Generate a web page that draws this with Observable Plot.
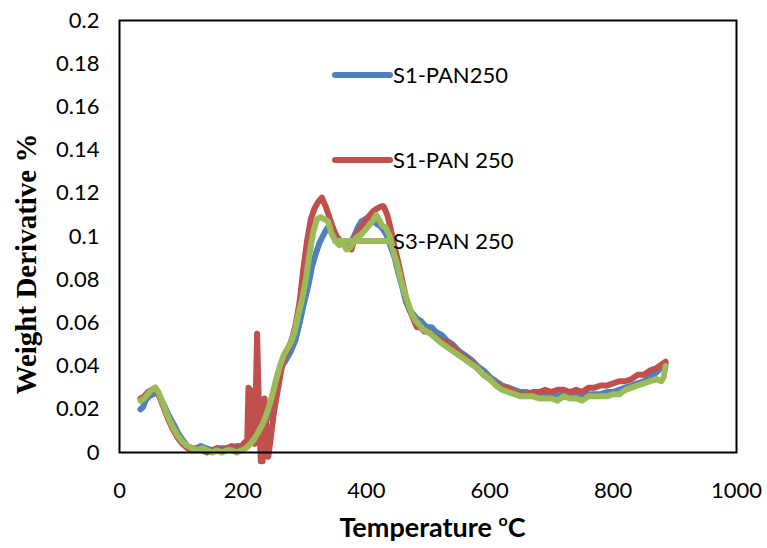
<!DOCTYPE html>
<html><head><meta charset="utf-8">
<script src="https://cdn.jsdelivr.net/npm/d3@7"></script>
<script src="https://cdn.jsdelivr.net/npm/@observablehq/plot@0.6"></script>
<style>body{margin:0;background:#fff} #chart{width:767px;height:548px}</style>
</head><body><div id="chart"></div>
<script>
const seriesNames = ["S1-PAN250", "S1-PAN 250", "S3-PAN 250"];
const seriesColors = ["#4F81BD", "#C0504D", "#9BBB59"];
const xTicks = [0, 200, 400, 600, 800, 1000];
const yTicks = [0, 0.02, 0.04, 0.06, 0.08, 0.1, 0.12, 0.14, 0.16, 0.18, 0.2];
const xTitle = "Temperature ";
const xTitleSup = "o";
const xTitleEnd = "C";
const yTitle = "Weight Derivative %";

// S1-PAN250 (blue)
const blueT = [34,38,42,48,55,60,65,72,80,88,95,102,110,118,125,132,140,150,160,170,180,190,200,210,220,230,240,248,255,262,268,272,278,285,292,298,305,312,318,324,331,337,342,348,355,362,368,374,380,386,392,398,404,410,416,422,428,434,440,446,452,458,464,470,476,482,488,494,500,506,512,518,524,530,540,550,560,570,580,590,600,610,620,630,640,650,660,670,680,690,700,710,720,730,740,750,760,770,780,790,800,810,820,830,840,850,860,870,880,885];
const blueV = [0.020,0.021,0.024,0.026,0.027,0.028,0.026,0.022,0.017,0.013,0.009,0.006,0.003,0.002,0.002,0.003,0.002,0.001,0.002,0.002,0.002,0.003,0.003,0.004,0.006,0.010,0.016,0.024,0.034,0.040,0.042,0.044,0.047,0.052,0.060,0.068,0.076,0.086,0.092,0.097,0.101,0.104,0.103,0.100,0.098,0.097,0.096,0.097,0.100,0.104,0.107,0.108,0.109,0.108,0.106,0.105,0.103,0.100,0.095,0.090,0.083,0.077,0.070,0.066,0.064,0.062,0.061,0.059,0.058,0.058,0.056,0.055,0.054,0.052,0.050,0.047,0.045,0.043,0.040,0.038,0.035,0.033,0.031,0.030,0.029,0.028,0.028,0.027,0.027,0.027,0.027,0.026,0.027,0.027,0.026,0.027,0.027,0.027,0.027,0.028,0.028,0.029,0.030,0.031,0.032,0.033,0.035,0.037,0.040,0.041];

// S1-PAN 250 (red)
const redT = [34,40,46,52,58,63,70,78,86,94,102,110,118,126,134,142,150,158,166,174,182,190,198,204,207,209,212,215,219,223,226,229,232,235,238,241,244,250,256,262,268,274,280,286,292,298,304,310,316,322,328,334,340,346,352,358,364,370,376,382,388,394,400,406,412,418,424,428,434,440,446,452,458,464,470,476,482,488,494,500,510,520,530,540,550,560,570,580,590,600,610,620,630,640,650,660,670,680,690,700,710,720,730,740,750,760,770,780,790,800,810,820,830,840,850,860,870,880,885];
const redV = [0.025,0.026,0.028,0.029,0.030,0.027,0.022,0.016,0.011,0.007,0.004,0.002,0.001,0.002,0.001,0.000,0.001,0.002,0.001,0.002,0.003,0.002,0.003,0.005,0.005,0.030,0.029,0.010,0.004,0.055,0.020,-0.004,-0.004,0.025,0.012,-0.002,0.004,0.018,0.028,0.038,0.045,0.048,0.053,0.060,0.070,0.085,0.098,0.108,0.113,0.116,0.118,0.114,0.109,0.104,0.100,0.098,0.097,0.095,0.094,0.100,0.103,0.105,0.108,0.110,0.112,0.113,0.114,0.114,0.110,0.103,0.095,0.088,0.080,0.072,0.066,0.062,0.058,0.058,0.056,0.056,0.054,0.052,0.051,0.049,0.046,0.044,0.042,0.039,0.036,0.034,0.032,0.030,0.030,0.028,0.027,0.027,0.028,0.028,0.029,0.028,0.029,0.029,0.028,0.029,0.028,0.030,0.030,0.031,0.031,0.032,0.033,0.033,0.034,0.036,0.036,0.038,0.039,0.041,0.042];

// S3-PAN 250 (green)
const greenT = [34,40,46,52,58,63,70,78,86,94,102,110,118,126,134,142,150,158,166,174,182,190,198,205,212,218,224,230,236,242,248,254,260,266,272,278,284,290,296,302,308,314,320,326,332,338,344,350,356,362,368,374,380,386,392,398,404,410,416,420,426,432,438,444,450,456,462,468,474,480,486,492,498,504,512,520,530,540,550,560,570,580,590,600,610,620,630,640,650,660,670,680,690,700,710,720,730,740,750,760,770,780,790,800,810,820,830,840,850,860,870,878,882,885];
const greenV = [0.024,0.025,0.027,0.029,0.030,0.028,0.023,0.017,0.012,0.008,0.005,0.003,0.002,0.001,0.002,0.001,0.000,0.001,0.000,0.001,0.001,0.000,0.001,0.002,0.004,0.006,0.009,0.012,0.016,0.021,0.027,0.034,0.040,0.045,0.048,0.051,0.056,0.064,0.071,0.080,0.092,0.102,0.108,0.109,0.108,0.107,0.101,0.098,0.096,0.097,0.094,0.095,0.098,0.100,0.101,0.103,0.105,0.107,0.110,0.108,0.105,0.104,0.100,0.093,0.087,0.080,0.074,0.069,0.064,0.061,0.059,0.057,0.056,0.055,0.053,0.051,0.049,0.047,0.045,0.043,0.041,0.039,0.036,0.034,0.031,0.029,0.028,0.027,0.026,0.026,0.026,0.025,0.025,0.025,0.024,0.026,0.025,0.025,0.024,0.026,0.026,0.026,0.026,0.027,0.027,0.029,0.030,0.031,0.032,0.033,0.034,0.033,0.035,0.040];

const rows = [];
[[blueT, blueV], [redT, redV], [greenT, greenV]].forEach(([ts, vs], i) => {
  ts.forEach((t, j) => rows.push({t, v: vs[j], s: seriesNames[i]}));
});

const W = 767, H = 548, mL = 119, mR = 31, mT = 20, mB = 96;

const plot = Plot.plot({
  width: W, height: H,
  marginLeft: mL, marginRight: mR, marginTop: mT, marginBottom: mB,
  style: {fontFamily: "Lato", fontSize: "22px", color: "#000", background: "#fff", overflow: "visible"},
  x: {domain: [0, 1000], label: null},
  y: {domain: [0, 0.2], label: null},
  color: {domain: seriesNames, range: seriesColors},
  marks: [
    Plot.axisX({ticks: xTicks, tickSize: 0, tickPadding: 30, label: null, fontSize: 22,
      tickFormat: d => String(d)}),
    Plot.axisY({ticks: yTicks, tickSize: 0, tickPadding: 20, label: null, fontSize: 22,
      tickFormat: d => String(+d.toFixed(2))}),
    Plot.line(rows, {x: "t", y: "v", z: "s", stroke: "s", strokeWidth: 6,
      strokeLinejoin: "round", strokeLinecap: "round", clip: false}),
    Plot.frame({stroke: "#000", strokeWidth: 2})
  ]
});
document.getElementById("chart").appendChild(plot);

const svg = d3.select(plot);
// Legend inside plot area
const legX0 = 335, legX1 = 390, legRows = [75, 160, 241];
seriesNames.forEach((name, i) => {
  const g = svg.append("g");
  g.append("line").attr("x1", legX0).attr("x2", legX1).attr("y1", legRows[i]).attr("y2", legRows[i])
    .attr("stroke", seriesColors[i]).attr("stroke-width", 6).attr("stroke-linecap", "round");
  g.append("text").attr("x", legX1 + 3).attr("y", legRows[i]).attr("dy", "0.36em")
    .attr("text-anchor", "start")
    .attr("font-family", "Lato").attr("font-size", 22).attr("fill", "#000").text(name);
});
// X title
const xt = svg.append("text").attr("x", (mL + W - mR) / 2 + 5).attr("y", 537)
  .attr("text-anchor", "middle").attr("font-family", "Lato").attr("font-weight", "bold")
  .attr("font-size", 27).attr("fill", "#000");
xt.append("tspan").text(xTitle);
xt.append("tspan").attr("font-size", 16).attr("dy", -11).text(xTitleSup);
xt.append("tspan").attr("dy", 11).text(xTitleEnd);
// Y title
svg.append("text").attr("transform", "translate(36,264) rotate(-90)")
  .attr("text-anchor", "middle").attr("font-family", "Liberation Serif").attr("font-weight", "bold")
  .attr("font-size", 29).attr("fill", "#000").text(yTitle);
</script>
</body></html>
